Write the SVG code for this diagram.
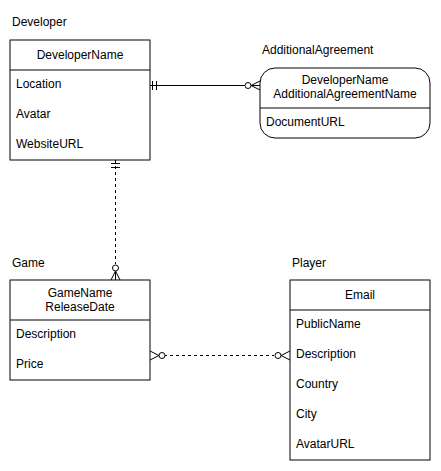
<svg xmlns="http://www.w3.org/2000/svg" width="441" height="471" viewBox="0 0 441 471">
<style>
text{font-family:"Liberation Sans",Arial,sans-serif;font-size:12px;fill:#000}
.c{text-anchor:middle}
.box{fill:#fff;stroke:#000;stroke-width:1}
.ln{stroke:#000;stroke-width:1;fill:none}
.dash{stroke-dasharray:3 3}
.circ{fill:#fff;stroke:#000;stroke-width:1}
</style>
<rect width="441" height="471" fill="#fff"/>
<g id="connectors">
  <path class="ln" d="M150 85.5 H260"/>
  <path class="ln" d="M152.5 81 V90 M156.5 81 V90"/>
  <path class="ln" d="M251 85.5 L260 81 M251 85.5 L260 90"/>
  <circle class="circ" cx="248" cy="85.5" r="3"/>
  <path class="ln dash" d="M115.5 160 V264"/>
  <path class="ln" d="M111 163.5 H120 M111 167.5 H120"/>
  <path class="ln" d="M115.5 271 L111 280 M115.5 271 L120 280 M115.5 271 V280"/>
  <circle class="circ" cx="115.5" cy="268" r="3"/>
  <path class="ln dash" d="M164 355.5 H274"/>
  <path class="ln" d="M159 355.5 L150 351 M159 355.5 L150 360"/>
  <circle class="circ" cx="162" cy="355.5" r="3"/>
  <path class="ln" d="M281 355.5 L290 351 M281 355.5 L290 360"/>
  <circle class="circ" cx="278" cy="355.5" r="3"/>
</g>
<g id="developer">
  <text x="12" y="26">Developer</text>
  <rect class="box" x="10" y="40" width="140" height="120"/>
  <path class="ln" d="M10 70 H150"/>
  <text class="c" x="80" y="59">DeveloperName</text>
  <text x="16" y="88">Location</text>
  <text x="16" y="118">Avatar</text>
  <text x="16" y="148">WebsiteURL</text>
</g>
<g id="additionalAgreement">
  <text x="262" y="54">AdditionalAgreement</text>
  <rect class="box" x="260" y="68" width="170" height="70" rx="15" ry="15"/>
  <path class="ln" d="M260 108 H430"/>
  <text class="c" x="345" y="84">DeveloperName</text>
  <text class="c" x="345" y="98">AdditionalAgreementName</text>
  <text x="266" y="126">DocumentURL</text>
</g>
<g id="game">
  <text x="12" y="267">Game</text>
  <rect class="box" x="10" y="280" width="140" height="100"/>
  <path class="ln" d="M10 320 H150"/>
  <text class="c" x="80" y="297">GameName</text>
  <text class="c" x="80" y="311">ReleaseDate</text>
  <text x="16" y="338">Description</text>
  <text x="16" y="368">Price</text>
</g>
<g id="player">
  <text x="292" y="267">Player</text>
  <rect class="box" x="290" y="280" width="140" height="180"/>
  <path class="ln" d="M290 310 H430"/>
  <text class="c" x="360" y="299">Email</text>
  <text x="296" y="328">PublicName</text>
  <text x="296" y="358">Description</text>
  <text x="296" y="388">Country</text>
  <text x="296" y="418">City</text>
  <text x="296" y="448">AvatarURL</text>
</g>
</svg>
